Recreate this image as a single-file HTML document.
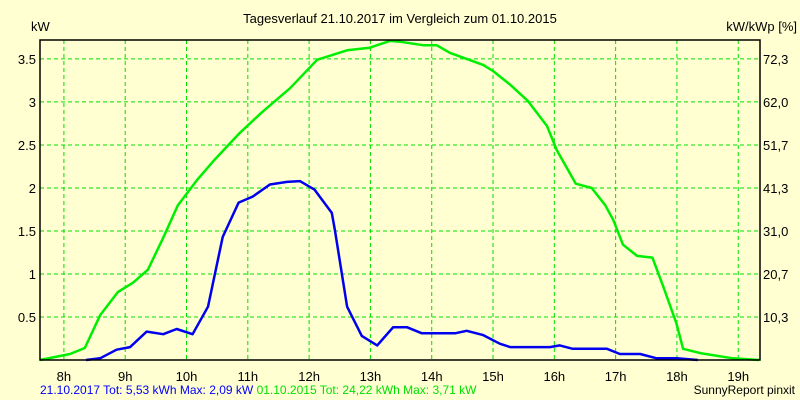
<!DOCTYPE html>
<html><head><meta charset="utf-8"><style>
html,body{margin:0;padding:0;background:#ffffd2;}
svg{display:block;font-family:"Liberation Sans",sans-serif;font-size:13px;}
</style></head><body>
<svg id="chart" width="800" height="400">
<rect width="800" height="400" fill="#ffffd2"/>
<text x="400" y="23" text-anchor="middle">Tagesverlauf 21.10.2017 im Vergleich zum 01.10.2015</text>
<text x="31" y="31">kW</text>
<text x="797" y="31" text-anchor="end">kW/kWp [%]</text>
<g id="grid"></g>
<g id="lines"></g>
<rect x="40" y="40" width="720" height="320" fill="none" stroke="#000" stroke-width="1.5"/>
<g id="labels"></g>
<text x="40" y="394" font-size="12"><tspan fill="#0000ff">21.10.2017 Tot: 5,53 kWh Max: 2,09 kW</tspan><tspan fill="#00e000"> 01.10.2015 Tot: 24,22 kWh Max: 3,71 kW</tspan></text>
<text x="795" y="394" font-size="12" text-anchor="end">SunnyReport pinxit</text>
</svg>
<script>
const hourTicks = [8,9,10,11,12,13,14,15,16,17,18,19];
const kwTicks = [0.5,1,1.5,2,2.5,3,3.5];
const kwLabels = ["0.5","1","1.5","2","2.5","3","3.5"];
const pctLabels = ["10,3","20,7","31,0","41,3","51,7","62,0","72,3"];
const greenT = [7.61,8.10,8.34,8.59,8.88,9.13,9.37,9.62,9.86,10.17,10.46,10.87,11.23,11.69,12.13,12.62,12.99,13.32,13.48,13.86,14.08,14.30,14.57,14.84,15.00,15.28,15.57,15.88,16.04,16.35,16.61,16.83,16.96,17.12,17.35,17.60,17.78,17.99,18.10,18.38,18.91,19.34];
const greenV = [0,0.07,0.14,0.52,0.79,0.90,1.05,1.42,1.80,2.09,2.33,2.64,2.88,3.16,3.49,3.60,3.63,3.71,3.70,3.66,3.66,3.57,3.50,3.43,3.36,3.20,3.01,2.72,2.44,2.05,2.00,1.80,1.63,1.34,1.21,1.19,0.85,0.43,0.13,0.08,0.02,0];
const blueT = [8.36,8.59,8.86,9.08,9.35,9.62,9.84,10.10,10.35,10.59,10.85,11.08,11.36,11.64,11.85,12.09,12.37,12.42,12.62,12.86,13.11,13.37,13.60,13.84,14.38,14.57,14.84,15.11,15.28,15.93,16.09,16.30,16.86,17.07,17.40,17.67,18.00,18.34];
const blueV = [0,0.02,0.12,0.15,0.33,0.30,0.36,0.30,0.62,1.43,1.83,1.90,2.04,2.07,2.08,1.98,1.71,1.51,0.62,0.28,0.17,0.38,0.38,0.31,0.31,0.34,0.29,0.19,0.15,0.15,0.17,0.13,0.13,0.07,0.07,0.02,0.02,0];

const NS="http://www.w3.org/2000/svg";
const X0=40,X1=760,Y0=360,Y1=40,T0=7.61,T1=19.355,V0=0,V1=3.72;
function xs(t){return X0+(t-T0)/(T1-T0)*(X1-X0);}
function ys(v){return Y0-(v-V0)/(V1-V0)*(Y0-Y1);}
function mk(tag,attrs,parent){const e=document.createElementNS(NS,tag);for(const k in attrs)e.setAttribute(k,attrs[k]);parent.appendChild(e);return e;}
const grid=document.getElementById('grid'),labels=document.getElementById('labels'),lines=document.getElementById('lines');
hourTicks.forEach(h=>{
  const x=xs(h);
  const l=mk('line',{x1:x,x2:x,y1:Y1,y2:Y0,stroke:'#00e000','stroke-dasharray':'4,3'},grid);
  
  
  const t=mk('text',{x:x,y:381,'text-anchor':'middle'},labels);
  t.textContent=h+'h';
  
  
});
kwTicks.forEach((v,i)=>{
  const y=ys(v);
  const l=mk('line',{x1:X0,x2:X1,y1:y,y2:y,stroke:'#00e000','stroke-dasharray':'4,3'},grid);
  
  
  const t=mk('text',{x:36,y:y+5,'text-anchor':'end'},labels);
  t.textContent=kwLabels[i];
  
  
  const r=mk('text',{x:763,y:y+5},labels);
  r.textContent=pctLabels[i];
  
  
});
function series(T,V,color,name){
  const pts=T.map((t,i)=>xs(t).toFixed(1)+','+ys(V[i]).toFixed(1)).join(' ');
  const p=mk('polyline',{points:pts,fill:'none',stroke:color,'stroke-width':2.5,'stroke-linejoin':'round'},lines);
  
  
}
series(greenT,greenV,'#00ee00','series-2015-line');
series(blueT,blueV,'#0000ee','series-2017-line');
</script>
</body></html>
